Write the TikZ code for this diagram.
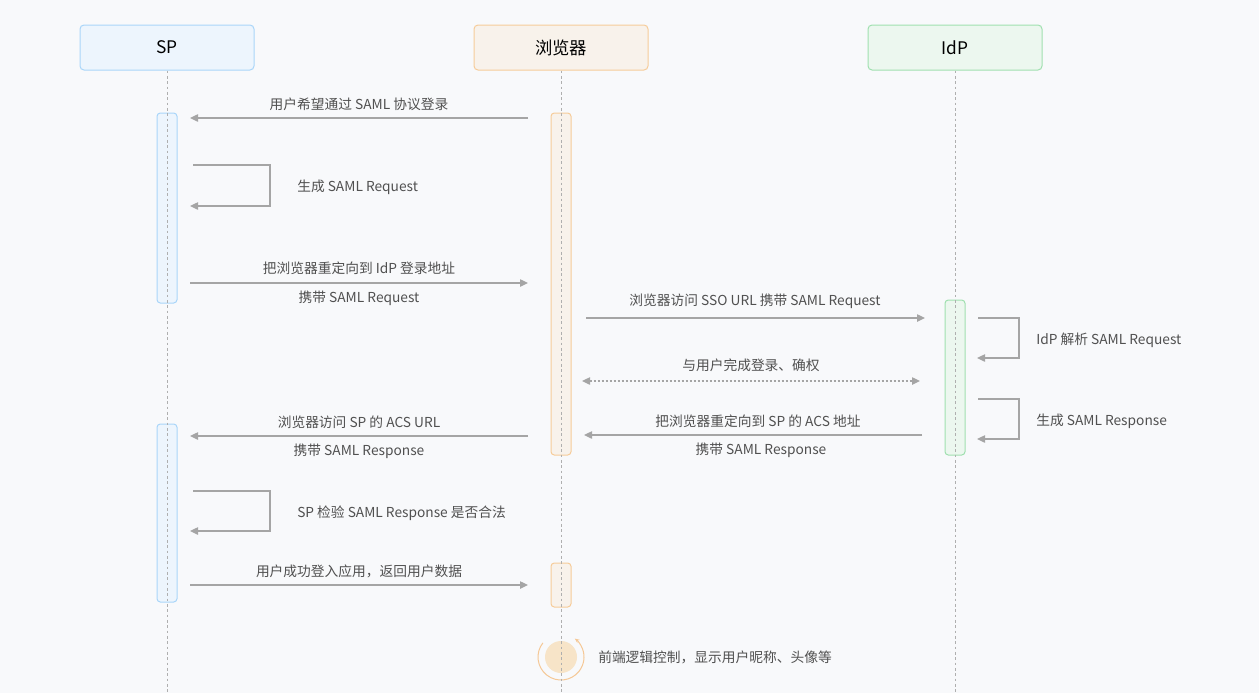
\documentclass[tikz,border=0pt]{standalone}
\usepackage{fontspec}
\setmainfont{Noto Sans CJK SC}
\usetikzlibrary{arrows.meta,calc}
\definecolor{bg}{RGB}{248,249,251}
\definecolor{spfill}{RGB}{237,245,253}
\definecolor{spdraw}{RGB}{170,214,249}
\definecolor{brfill}{RGB}{248,242,235}
\definecolor{brdraw}{RGB}{246,204,154}
\definecolor{idpfill}{RGB}{236,247,239}
\definecolor{idpdraw}{RGB}{160,224,176}
\definecolor{arrowc}{RGB}{165,165,165}
\definecolor{txt}{RGB}{80,80,80}
\definecolor{life}{RGB}{175,175,175}
\definecolor{circfill}{RGB}{247,228,200}
\definecolor{circline}{RGB}{245,200,150}
\begin{document}
\begin{tikzpicture}[x=0.75pt,y=-0.75pt,
  head/.style={draw, rounded corners=3pt, minimum width=130.5pt, minimum height=33.75pt,
    line width=0.75pt, font=\fontsize{13}{15}\selectfont, text=black, inner sep=0},
  bar/.style={draw, rounded corners=2.5pt, minimum width=15pt, line width=0.75pt, inner sep=0},
  lifeline/.style={draw=life, line width=0.6pt, dash pattern=on 2pt off 2pt},
  msg/.style={draw=arrowc, line width=1pt, -{Triangle[length=6pt,width=5.5pt]}},
  dmsg/.style={draw=arrowc, line width=1pt, dash pattern=on 1.5pt off 1.5pt,
    {Triangle[length=6pt,width=5.5pt]}-{Triangle[length=6pt,width=5.5pt]}},
  lbl/.style={text=txt, font=\fontsize{10.3}{12}\selectfont, inner sep=0},
]
\fill[bg] (0,0) rectangle (1259,693);
\useasboundingbox (0,0) rectangle (1259,693);

% headers
\node[head, draw=spdraw, fill=spfill] (sp) at (167,47.5) {SP};
\node[head, draw=brdraw, fill=brfill] (br) at (561,47.5) {浏览器};
\node[head, draw=idpdraw, fill=idpfill] (idp) at (955,47.5) {IdP};

% activation bars
\node[bar, draw=spdraw, fill=spfill, minimum height=142.5pt] (spA) at (167,208) {};
\node[bar, draw=spdraw, fill=spfill, minimum height=133.5pt] (spB) at (167,513) {};
\node[bar, draw=brdraw, fill=brfill, minimum height=256.5pt] (brA) at (561,284) {};
\node[bar, draw=brdraw, fill=brfill, minimum height=33pt] (brB) at (561,585) {};
\node[bar, draw=idpdraw, fill=idpfill, minimum height=116.25pt] (idpA) at (955,377.5) {};

% bottom circle
\node[circle, fill=circfill, minimum size=24pt, inner sep=0] (cc) at (561,657) {};
\draw[circline, line width=0.75pt, -{Stealth[length=3.5pt,width=3pt]}]
  ($(cc)+(142:17.25pt)$) arc[start angle=142, end angle=413, radius=17.25pt];

% lifelines
\coordinate (spEnd) at (167,693);
\coordinate (brEnd) at (561,693);
\coordinate (idpEnd) at (955,693);
\draw[lifeline] (sp.south) -- (spEnd);
\draw[lifeline] (br.south) -- (brEnd);
\draw[lifeline] (idp.south) -- (idpEnd);

% message 1
\coordinate (m1s) at (528,118); \coordinate (m1e) at (190,118);
\draw[msg] (m1s) -- (m1e);
\node[lbl] (t1) at (359,104) {用户希望通过 SAML 协议登录};

% self loop SP 1
\coordinate (s1s) at (193,165); \coordinate (s1e) at (190,206);
\draw[msg] (s1s) -- (270,165) |- (s1e);
\node[lbl, anchor=west] (t2) at (297,187) {生成 SAML Request};

% message 3
\coordinate (m3s) at (190,283); \coordinate (m3e) at (528,283);
\draw[msg] (m3s) -- (m3e);
\node[lbl] (t3a) at (359,268) {把浏览器重定向到 IdP 登录地址};
\node[lbl] (t3b) at (359,298) {携带 SAML Request};

% message 4
\coordinate (m4s) at (586,318); \coordinate (m4e) at (925,318);
\draw[msg] (m4s) -- (m4e);
\node[lbl] (t4) at (755,301) {浏览器访问 SSO URL 携带 SAML Request};

% IdP self loop 1
\coordinate (s2s) at (978,318); \coordinate (s2e) at (977,358);
\draw[msg] (s2s) -- (1019,318) |- (s2e);
\node[lbl, anchor=west] (t5) at (1036,340) {IdP 解析 SAML Request};

% dotted two-way
\coordinate (m6s) at (582,381); \coordinate (m6e) at (920,381);
\draw[dmsg] (m6s) -- (m6e);
\node[lbl] (t6) at (751,365) {与用户完成登录、确权};

% IdP self loop 2
\coordinate (s3s) at (978,399); \coordinate (s3e) at (977,439);
\draw[msg] (s3s) -- (1019,399) |- (s3e);
\node[lbl, anchor=west] (t7) at (1036,421) {生成 SAML Response};

% message 8
\coordinate (m8s) at (922,435); \coordinate (m8e) at (584,435);
\draw[msg] (m8s) -- (m8e);
\node[lbl] (t8a) at (758,421) {把浏览器重定向到 SP 的 ACS 地址};
\node[lbl] (t8b) at (761,450) {携带 SAML Response};

% message 9
\coordinate (m9s) at (528,436); \coordinate (m9e) at (190,436);
\draw[msg] (m9s) -- (m9e);
\node[lbl] (t9a) at (359,422) {浏览器访问 SP 的 ACS URL};
\node[lbl] (t9b) at (359,451) {携带 SAML Response};

% SP self loop 2
\coordinate (s4s) at (193,491); \coordinate (s4e) at (190,531);
\draw[msg] (s4s) -- (270,491) |- (s4e);
\node[lbl, anchor=west] (t10) at (297,513) {SP 检验 SAML Response 是否合法};

% message 11
\coordinate (m11s) at (190,585); \coordinate (m11e) at (528,585);
\draw[msg] (m11s) -- (m11e);
\node[lbl] (t11) at (359,571) {用户成功登入应用，返回用户数据};

% final note
\node[lbl, anchor=west] (t12) at (598,657) {前端逻辑控制，显示用户昵称、头像等};
\end{tikzpicture}
\end{document}
